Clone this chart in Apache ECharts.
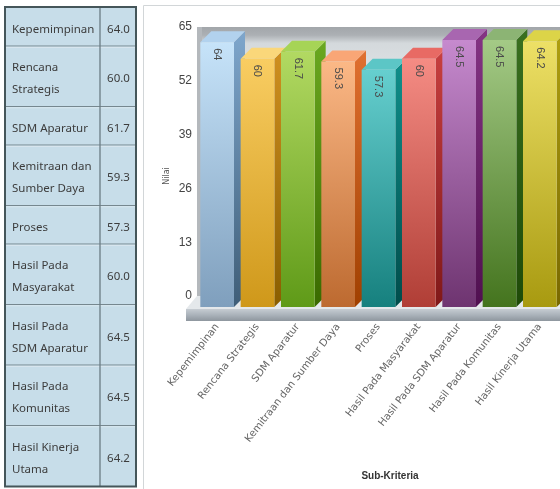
<!DOCTYPE html>
<html>
<head>
<meta charset="utf-8">
<script src="https://cdn.jsdelivr.net/npm/echarts@6/dist/echarts.min.js"></script>
<style>
  html, body { margin: 0; padding: 0; background: #ffffff; }
  #main { width: 560px; height: 489px; }
</style>
</head>
<body>
<div id="main"></div>
<script>
// Sub-criteria and their scores
const categories = [
  'Kepemimpinan', 'Rencana Strategis', 'SDM Aparatur', 'Kemitraan dan Sumber Daya',
  'Proses', 'Hasil Pada Masyarakat', 'Hasil Pada SDM Aparatur', 'Hasil Pada Komunitas',
  'Hasil Kinerja Utama'
];
const nilai = [64, 60, 61.7, 59.3, 57.3, 60, 64.5, 64.5, 64.2];

// Row captions of the side table, split into their printed lines
const tableRows = [
  ['Kepemimpinan'], ['Rencana', 'Strategis'], ['SDM Aparatur'], ['Kemitraan dan', 'Sumber Daya'],
  ['Proses'], ['Hasil Pada', 'Masyarakat'], ['Hasil Pada', 'SDM Aparatur'], ['Hasil Pada', 'Komunitas'],
  ['Hasil Kinerja', 'Utama']
];

// Value axis
const yMin = 0, yMax = 65, yStep = 13;

// Column colours: front top, front bottom, side top, side bottom, top face
const barColors = [
  ['#c6e3f9', '#7f9fbd', '#7ea6cc', '#3f5e78', '#b2d2ee'],
  ['#f9cd62', '#cf981a', '#d09020', '#8a5e00', '#fad77a'],
  ['#b2d962', '#5f9a18', '#6aa820', '#3a6a00', '#a6d456'],
  ['#fbb886', '#bd6a30', '#e07030', '#a04000', '#f9a676'],
  ['#66cfcf', '#16807e', '#10908c', '#004c4a', '#5cc6c6'],
  ['#f58c84', '#b03e36', '#c84040', '#801818', '#e86a64'],
  ['#c68ace', '#6e3470', '#843484', '#501050', '#a866b0'],
  ['#a4ca86', '#44741e', '#3a7020', '#1e4a08', '#8cb474'],
  ['#ede066', '#a89a10', '#b0a010', '#786800', '#dcd448']
];

const DEPTH = 11;

function vgrad(a, b) {
  return { type: 'linear', x: 0, y: 0, x2: 0, y2: 1,
    colorStops: [{ offset: 0, color: a }, { offset: 1, color: b }] };
}

function fmtBar(v) { return String(Number(v.toFixed(1))); }

// Back wall and floor slab of the 3D stage
function renderStage(params, api) {
  const cs = params.coordSys;
  const L = cs.x, T = cs.y, R = cs.x + cs.width, B = cs.y + cs.height;
  return {
    type: 'group',
    children: [
      { type: 'rect', shape: { x: L, y: T, width: R - L, height: B - T },
        style: { fill: { type: 'linear', x: 0, y: 0, x2: 0, y2: 1, colorStops: [
          { offset: 0, color: '#a2a6aa' }, { offset: 0.03, color: '#acb0b4' },
          { offset: 0.06, color: '#d4d9dc' }, { offset: 0.25, color: '#e4e7ea' },
          { offset: 1, color: '#eceef0' } ] } } },
      { type: 'rect', shape: { x: L, y: T, width: 5, height: B - T }, style: { fill: '#b4b8bc' } },
      { type: 'polygon', shape: { points: [[L, B], [R, B], [R, B + DEPTH + 2], [L - DEPTH, B + DEPTH + 2]] },
        style: { fill: '#e4e8eb' } },
      { type: 'rect', shape: { x: L - DEPTH, y: B + DEPTH + 2, width: R - L + DEPTH, height: 12 },
        style: { fill: { type: 'linear', x: 0, y: 0, x2: 0, y2: 1, colorStops: [
          { offset: 0, color: '#c6ccd2' }, { offset: 0.5, color: '#aab2ba' },
          { offset: 1, color: '#8e969e' } ] } } }
    ]
  };
}

// One 3D column: side, top, front face and rotated value label
function renderBar(params, api) {
  const i = params.dataIndex;
  const v = api.value(1);
  const pTop = api.coord([i, v]);
  const pBase = api.coord([i, 0]);
  const w = api.size([1, 0])[0] * 0.835;
  const x0 = pTop[0] - w / 2, x1 = pTop[0] + w / 2;
  const yT = pTop[1] + DEPTH, yB = pBase[1] + DEPTH;
  const c = barColors[i];
  return {
    type: 'group',
    children: [
      { type: 'polygon',
        shape: { points: [[x1, yT], [x1 + DEPTH, yT - DEPTH], [x1 + DEPTH, yB - DEPTH], [x1, yB]] },
        style: { fill: vgrad(c[2], c[3]) } },
      { type: 'polygon',
        shape: { points: [[x0, yT], [x0 + DEPTH, yT - DEPTH], [x1 + DEPTH, yT - DEPTH], [x1, yT]] },
        style: { fill: c[4] } },
      { type: 'rect', shape: { x: x0, y: yT, width: w, height: yB - yT },
        style: { fill: vgrad(c[0], c[1]) } },
      { type: 'text', x: pTop[0], y: yT + 6, rotation: -Math.PI / 2,
        style: { text: fmtBar(v), fill: '#4a4a4a', font: '11px "Liberation Sans"',
          align: 'left', verticalAlign: 'middle' } }
    ]
  };
}

// Side table drawn as graphic elements
function buildTable() {
  const TX = 5, TW = 131, COLX = 100, TY = 7;
  const LINE = 22, PAD = 16.5;
  const els = [];
  let y = TY + 1;
  const rows = tableRows.map(lines => {
    const h = PAD + LINE * lines.length;
    const r = { y: y, h: h, lines: lines };
    y += h;
    return r;
  });
  const bottom = y;
  els.push({ type: 'rect', shape: { x: TX, y: TY, width: TW, height: bottom - TY },
    style: { fill: '#c7dde9' }, z: 0 });
  rows.forEach((r, i) => {
    if (i > 0) {
      els.push({ type: 'line', shape: { x1: TX, y1: r.y - 0.5, x2: TX + TW, y2: r.y - 0.5 },
        style: { stroke: '#76878f', lineWidth: 1.2 }, z: 1 });
      els.push({ type: 'line', shape: { x1: TX, y1: r.y + 0.8, x2: TX + TW, y2: r.y + 0.8 },
        style: { stroke: '#dbe8ef', lineWidth: 1 }, z: 1 });
    }
    const mid = r.y + r.h / 2 + 2;
    r.lines.forEach((t, k) => {
      els.push({ type: 'text', x: 12, y: mid + (k - (r.lines.length - 1) / 2) * LINE, z: 2,
        style: { text: t, fill: '#3c3c3c', font: '11.5px "Noto Sans"',
          align: 'left', verticalAlign: 'middle' } });
    });
    els.push({ type: 'text', x: 118.5, y: mid, z: 2,
      style: { text: nilai[i].toFixed(1), fill: '#3c3c3c', font: '11.5px "Noto Sans"',
        align: 'center', verticalAlign: 'middle' } });
  });
  els.push({ type: 'line', shape: { x1: COLX, y1: TY, x2: COLX, y2: bottom },
    style: { stroke: '#6b7c84', lineWidth: 1.3 }, z: 1 });
  els.push({ type: 'rect', shape: { x: TX, y: TY, width: TW, height: bottom - TY },
    style: { fill: 'none', stroke: '#45565a', lineWidth: 2 }, z: 3 });
  return els;
}

const chart = echarts.init(document.getElementById('main'), null, { renderer: 'canvas' });

chart.setOption({
  animation: false,
  backgroundColor: '#ffffff',
  graphic: [
    // chart panel frame
    { type: 'polyline', shape: { points: [[143.5, 489], [143.5, 5.5], [560, 5.5]] },
      style: { stroke: '#d2d6d8', lineWidth: 1, fill: 'none' } },
    { type: 'text', x: 167, y: 176, rotation: Math.PI / 2,
      style: { text: 'Nilai', fill: '#555555', font: '8px "DejaVu Sans"',
        align: 'center', verticalAlign: 'middle' } },
    { type: 'text', x: 390, y: 476,
      style: { text: 'Sub-Kriteria', fill: '#333333', font: 'bold 10px "Liberation Sans"',
        align: 'center', verticalAlign: 'middle' } }
  ].concat(buildTable()),
  grid: { left: 197, top: 27, width: 367, height: 269 },
  xAxis: {
    type: 'category',
    data: categories,
    axisLine: { show: false },
    axisTick: { show: false },
    splitLine: { show: false },
    axisLabel: {
      interval: 0, rotate: 52, margin: 29,
      color: '#666666', fontFamily: 'DejaVu Sans', fontSize: 10.2
    }
  },
  yAxis: {
    type: 'value',
    min: yMin, max: yMax, interval: yStep,
    axisLine: { show: false },
    axisTick: { show: false },
    splitLine: { show: false },
    axisLabel: { margin: 5, color: '#444444', fontFamily: 'Liberation Sans', fontSize: 12 }
  },
  series: [
    { type: 'custom', z: 1, silent: true, renderItem: renderStage, data: [[0, 0]] },
    { type: 'custom', z: 2, silent: true, renderItem: renderBar,
      encode: { x: 0, y: 1 },
      data: nilai.map((v, i) => [i, v]) }
  ]
});
</script>
</body>
</html>
